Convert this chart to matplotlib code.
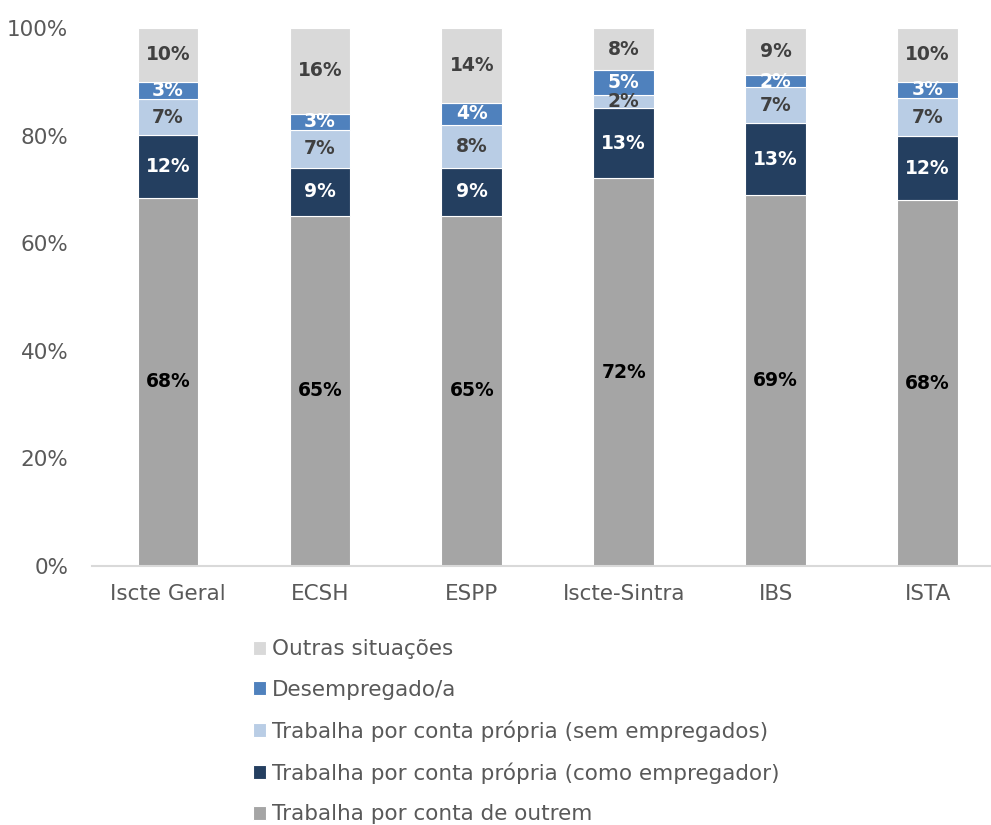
import matplotlib.pyplot as plt
import numpy as np

plt.rcParams['font.family'] = ['DejaVu Sans']

categories = ["Iscte Geral", "ECSH", "ESPP", "Iscte-Sintra", "IBS", "ISTA"]
series_names = ["Trabalha por conta de outrem",
                "Trabalha por conta própria (como empregador)",
                "Trabalha por conta própria (sem empregados)",
                "Desempregado/a",
                "Outras situações"]
outrem = [68.4, 65.1, 65.1, 72.1, 69.0, 68.0]
empregador = [11.7, 8.9, 8.9, 13.0, 13.3, 11.9]
sem_empregados = [6.7, 7.1, 8.0, 2.4, 6.7, 7.1]
desempregado = [3.2, 3.0, 4.1, 4.7, 2.3, 3.0]
outras = [10.0, 15.9, 13.9, 7.8, 8.7, 10.0]
y_ticks = [0, 20, 40, 60, 80, 100]

colors = ["#A5A5A5", "#243F60", "#B9CDE5", "#4F81BD", "#D9D9D9"]
label_colors = ["black", "white", "#404040", "white", "#404040"]

fig = plt.figure(figsize=(9.91, 8.25), dpi=100)
ax = fig.add_axes([0.0928, 0.314, 0.92, 0.652])

x = np.arange(len(categories))
bottom = np.zeros(len(categories))
handles = []
for name, vals, col, lc in zip(series_names,
                               [outrem, empregador, sem_empregados, desempregado, outras],
                               colors, label_colors):
    vals = np.array(vals)
    bars = ax.bar(x, vals, 0.4, bottom=bottom, color=col, edgecolor="white", linewidth=0.8, label=name)
    handles.append(bars)
    for xi, b, v in zip(x, bottom, vals):
        ax.text(xi, b + v / 2, f"{round(v)}%", ha="center", va="center",
                fontsize=13.5, fontweight="bold", color=lc)
    bottom += vals

ax.set_xlim(-0.5, len(categories) - 0.5)
ax.set_ylim(0, 100)
ax.set_yticks(y_ticks)
ax.set_yticklabels([f"{t}%" for t in y_ticks])
ax.set_xticks(x)
ax.set_xticklabels(categories)
ax.tick_params(axis="both", length=0, labelsize=15.5, colors="#595959")
ax.tick_params(axis="x", pad=13)
ax.tick_params(axis="y", pad=17)
for s in ["top", "right", "left"]:
    ax.spines[s].set_visible(False)
ax.spines["bottom"].set_color("#D9D9D9")
ax.spines["bottom"].set_linewidth(1.5)

# legend is cut at the bottom edge, like the original
leg = fig.legend(handles[::-1], series_names[::-1], loc="upper left",
                 bbox_to_anchor=(0.244, 0.238), frameon=False, fontsize=15.5,
                 handlelength=0.62, handleheight=0.62, handletextpad=0.28,
                 labelspacing=0.95, borderpad=0)
for t in leg.get_texts():
    t.set_color("#595959")

fig.savefig("out.png", dpi=100)
